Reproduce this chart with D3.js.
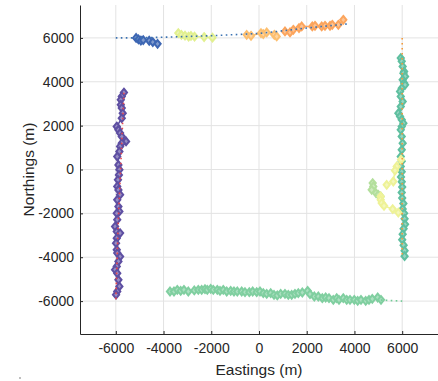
<!DOCTYPE html>
<html>
<head>
<meta charset="utf-8">
<script src="https://cdn.jsdelivr.net/npm/d3@7"></script>
<style>
  body { margin: 0; background: #fff; }
  text { font-family: "Liberation Sans", Arial, sans-serif; fill: #262626; }
</style>
</head>
<body>
<div id="chart"></div>
<script>
// tick values (m)
let ticks = [-6000, -4000, -2000, 0, 2000, 4000, 6000];

// reference (planned) lines, drawn dotted
let refTop = [[-6000, 6000], [-5200, 6000], [-4000, 6030], [-2000, 6100], [0, 6200], [2000, 6450], [3800, 6650]];
let refLeft = [[-5660, 3500], [-5720, 2000], [-5800, 0], [-5900, -2500], [-6000, -6000]];
let refRight = [[6000, 6000], [6000, -3900]];
let refBottom = [[5100, -5950], [6000, -6000]];

// measured tracks
let trackBlue = [[-5150, 6000], [-5050, 5930], [-4950, 5880], [-4850, 5900], [-4600, 5870], [-4450, 5810], [-4250, 5730]];
let trackYellowGreen = [[-3380, 6220], [-3250, 6140], [-3100, 6100], [-2950, 6060], [-2850, 6090], [-2700, 6060], [-2300, 6040], [-1950, 6010]];
let trackLightOrange = [[-515, 6140], [-335, 6097], [84, 6220], [180, 6174], [323, 6247], [641, 6142], [742, 6065]];
let trackOrange = [[1089, 6293], [1299, 6247], [1437, 6370], [1676, 6448], [1789, 6521], [2233, 6521], [2346, 6553], [2627, 6521], [2765, 6553], [2975, 6553], [3071, 6598], [3323, 6598], [3532, 6826]];
let trackPurple = [[-5660, 3510], [-5750, 3330], [-5790, 3180], [-5790, 2950], [-5750, 2800], [-5710, 2570], [-5750, 2340], [-5960, 1960], [-5890, 1810], [-5820, 1660], [-5750, 1500], [-5570, 1280], [-5750, 1200], [-5820, 1050], [-5850, 820], [-5940, 590], [-5890, 210], [-5850, -10], [-5870, -250], [-5910, -470], [-5940, -770], [-5890, -930], [-5820, -1150], [-5940, -1380], [-5890, -1690], [-5850, -1910], [-5960, -2000], [-5940, -2290], [-6030, -2600], [-5960, -2830], [-5820, -2900], [-5960, -3130], [-5990, -3360], [-5960, -3660], [-5940, -3810], [-5820, -3970], [-5890, -4190], [-5960, -4420], [-6030, -4570], [-5940, -4730], [-5890, -5030], [-5850, -5330], [-5940, -5560], [-5990, -5710]];
let trackTeal = [[5940, 5080], [5980, 4930], [6020, 4700], [6080, 4470], [6050, 4390], [6120, 4240], [6020, 4090], [6080, 3940], [6120, 3860], [5980, 3710], [5910, 3560], [5940, 3330], [6020, 3100], [5940, 2870], [5840, 2570], [5910, 2420], [5980, 2270], [6050, 2110], [5980, 1960], [5940, 1810], [5980, 1510], [6020, 1200], [5980, 900], [5940, 590], [5980, 380], [5940, 140], [5980, -100], [5950, -340], [5980, -560], [6000, -800], [5980, -1050], [6000, -1300], [6050, -1550], [6020, -1800], [6080, -2000], [6100, -2250], [6120, -2500], [6060, -2700], [6020, -2950], [6000, -3200], [6060, -3450], [6100, -3700], [6100, -3950]];
let trackGreen = [[-3729, -5562], [-3562, -5562], [-3423, -5486], [-3281, -5532], [-3143, -5486], [-2962, -5562], [-2711, -5516], [-2543, -5486], [-2401, -5486], [-2263, -5456], [-2166, -5486], [-2024, -5440], [-1915, -5486], [-1747, -5486], [-1634, -5532], [-1496, -5486], [-1353, -5562], [-1186, -5532], [-1048, -5562], [-909, -5562], [-725, -5562], [-587, -5592], [-406, -5592], [-264, -5562], [-96, -5592], [42, -5562], [180, -5638], [323, -5668], [490, -5638], [629, -5714], [767, -5744], [909, -5668], [1089, -5668], [1228, -5714], [1370, -5714], [1508, -5668], [1647, -5638], [1815, -5608], [2039, -5531], [2137, -5684], [2318, -5790], [2485, -5790], [2653, -5866], [2793, -5836], [2933, -5866], [3113, -5942], [3256, -5866], [3352, -5942], [3532, -5866], [3675, -5942], [3813, -5942], [3993, -5942], [4135, -5988], [4274, -5942], [4471, -5988], [4609, -5942], [4747, -5896], [4973, -5836], [5112, -5942]];
let trackYellowA = [[5950, 450], [5770, 137], [5698, -46], [5627, -547], [5351, -698]];
let trackLightGreen = [[4764, -620], [4789, -775], [4722, -926], [4902, -1076], [4999, -1154], [5099, -1231]];
let trackYellowB = [[5099, -1231], [5099, -1382], [5141, -1531], [5238, -1655], [5602, -1806], [5837, -1961]];

let refs = [
  {data: refTop, color: "#3a72b2"},
  {data: refLeft, color: "#e9474c"},
  {data: refRight, color: "#f39a3c"},
  {data: refBottom, color: "#6fcb95"}
];
let tracks = [
  {data: trackBlue, color: "#3d66b3"},
  {data: trackYellowGreen, color: "#e2f08f"},
  {data: trackLightOrange, color: "#fdbf6f"},
  {data: trackOrange, color: "#fca55d"},
  {data: trackPurple, color: "#5e4fa2"},
  {data: trackTeal, color: "#5fbfa0"},
  {data: trackGreen, color: "#80cfa0"},
  {data: trackLightGreen, color: "#b3df9c"},
  {data: trackYellowA, color: "#eef297"},
  {data: trackYellowB, color: "#eef297"}
];

let width = 438, height = 381;
let margin = {top: 5, right: 0, bottom: 47, left: 80};

let svg = d3.select("#chart")
  .append("svg")
    .attr("width", width)
    .attr("height", height);

let x = d3.scaleLinear()
  .domain([-7500, 7500])
  .range([margin.left, width - margin.right]);
let y = d3.scaleLinear()
  .domain([-7500, 7500])
  .range([height - margin.bottom, margin.top]);

// grid
svg.append("g")
  .selectAll("line.vg")
  .data(ticks)
  .enter().append("line")
    .attr("x1", d => x(d)).attr("x2", d => x(d))
    .attr("y1", y(-7500)).attr("y2", y(7500))
    .attr("stroke", "#e3e3e3").attr("stroke-width", 1);
svg.append("g")
  .selectAll("line.hg")
  .data(ticks)
  .enter().append("line")
    .attr("y1", d => y(d)).attr("y2", d => y(d))
    .attr("x1", x(-7500)).attr("x2", x(7500))
    .attr("stroke", "#e3e3e3").attr("stroke-width", 1);

svg.append("clipPath").attr("id", "clip")
  .append("rect")
    .attr("x", x(-7500)).attr("y", y(7500))
    .attr("width", x(7500) - x(-7500)).attr("height", y(-7500) - y(7500));

let plot = svg.append("g").attr("clip-path", "url(#clip)");

let line = d3.line().x(d => x(d[0])).y(d => y(d[1]));

// tracks: line + diamonds
tracks.forEach(t => {
  plot.append("path")
    .datum(t.data)
    .attr("d", line)
    .attr("fill", "none")
    .attr("stroke", t.color)
    .attr("stroke-width", 1.5);
  plot.append("g")
    .selectAll("path")
    .data(t.data)
    .enter().append("path")
      .attr("transform", d => "translate(" + x(d[0]) + "," + y(d[1]) + ")")
      .attr("d", "M0,-3.8L3.1,0L0,3.8L-3.1,0Z")
      .attr("fill", d3.interpolateRgb(t.color, "#fff")(0.35))
      .attr("stroke", t.color)
      .attr("stroke-width", 2);
});

// dotted reference lines
refs.forEach(r => {
  plot.append("path")
    .datum(r.data)
    .attr("d", line)
    .attr("fill", "none")
    .attr("stroke", r.color)
    .attr("stroke-width", 1.6)
    .attr("stroke-dasharray", "1.6,3.4");
});

// axes (plain hyphen for negatives)
let fmt = d3.formatLocale({decimal: ".", thousands: "", grouping: [3], currency: ["", ""], minus: "-"}).format("d");
let xAxis = svg.append("g")
  .attr("transform", "translate(0," + y(-7500) + ")")
  .call(d3.axisBottom(x).tickValues(ticks).tickFormat(fmt).tickSize(-3).tickPadding(9).tickSizeOuter(0));
let yAxis = svg.append("g")
  .attr("transform", "translate(" + x(-7500) + ",0)")
  .call(d3.axisLeft(y).tickValues(ticks).tickFormat(fmt).tickSize(-3).tickPadding(6).tickSizeOuter(0));
[xAxis, yAxis].forEach(a => {
  a.select(".domain").attr("stroke", "#262626");
  a.selectAll(".tick line").attr("stroke", "#262626");
  a.selectAll(".tick text")
    .attr("fill", "#262626")
    .style("font-size", "14px")
    .style("font-family", "'Liberation Sans', Arial, sans-serif");
});

svg.append("text")
  .attr("x", x(0))
  .attr("y", 375)
  .attr("text-anchor", "middle")
  .style("font-size", "15.5px")
  .text("Eastings (m)");

svg.append("text")
  .attr("transform", "translate(34," + y(0) + ") rotate(-90)")
  .attr("text-anchor", "middle")
  .style("font-size", "15.5px")
  .text("Northings (m)");

// small stray legend dot in the corner
svg.append("circle")
  .attr("cx", 20).attr("cy", 378).attr("r", 1)
  .attr("fill", "#aaa");
</script>
</body>
</html>
